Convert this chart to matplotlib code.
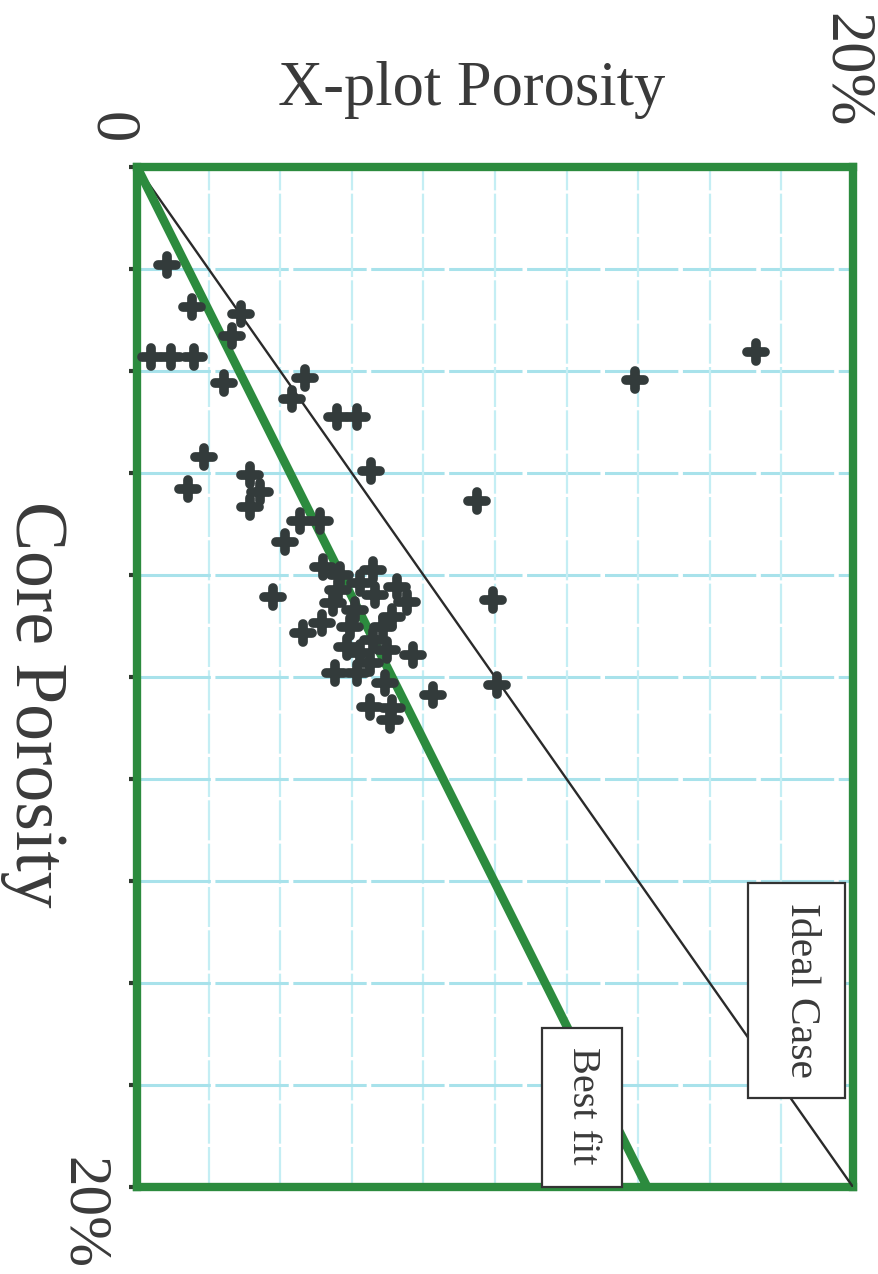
import matplotlib
matplotlib.use("Agg")
import matplotlib.pyplot as plt
from matplotlib.patches import Rectangle
from matplotlib.markers import MarkerStyle

# ---- data (porosity, %) ----
xplot_por = [0.84, 1.54, 2.91, 2.65, 0.39, 0.95, 1.59, 2.43, 4.69, 4.33, 5.59, 6.15,
             13.91, 17.29, 1.87, 1.42, 3.16, 3.44, 3.16, 6.54, 9.50, 4.55, 5.11, 4.13,
             5.20, 3.80, 9.94, 10.06, 7.71, 8.27, 6.59, 4.64, 5.17, 5.47, 5.61, 6.23,
             6.65, 7.26, 7.54, 7.12, 6.87, 5.95, 5.87, 6.23, 6.59, 6.98, 5.53, 6.15,
             6.51, 6.93, 6.51, 7.07, 7.12, 6.09, 5.67]
core_por = [1.92, 2.75, 2.88, 3.31, 3.73, 3.73, 3.73, 4.24, 4.14, 4.55, 4.90, 4.90,
            4.18, 3.63, 5.69, 6.31, 6.04, 6.37, 6.67, 5.96, 6.55, 6.94, 6.94, 7.35,
            7.84, 8.43, 8.49, 10.16, 9.57, 10.35, 7.90, 9.14, 8.94, 8.55, 8.29, 8.16,
            8.39, 8.24, 8.53, 8.82, 9.02, 9.02, 9.41, 9.53, 9.27, 9.47, 9.92, 9.92,
            9.73, 10.12, 10.59, 10.84, 10.61, 8.69, 8.00]

ideal_x = [0, 20]
ideal_y = [0, 20]
bestfit_x = [0, 14.25]
bestfit_y = [0, 20]

grid_vals = [2, 4, 6, 8, 10, 12, 14, 16, 18]
tick_vals = [0, 2, 4, 6, 8, 10, 12, 14, 16, 18, 20]

GREEN = "#2c8b3e"
DARK = "#333b3b"
TXT = "#3a3a3a"
FONT = "Liberation Serif"

fig = plt.figure(figsize=(8.79, 12.74), dpi=100)
ax = fig.add_axes([0.1559, 0.0683, 0.8145, 0.8006])
ax.set_xlim(0, 20)
ax.set_ylim(20, 0)

for g in grid_vals:
    ax.axvline(g, color="#c4eef4", lw=1.6, zorder=1, dashes=(18, 1.5))
    ax.axhline(g, color="#a8e2eb", lw=2.2, zorder=1, dashes=(24, 1.5))

ax.plot(ideal_x, ideal_y, color="#2a2a2a", lw=1.7, zorder=3)
ax.plot(bestfit_x, bestfit_y, color=GREEN, lw=6.3, zorder=3, solid_capstyle="butt")

plus = MarkerStyle("+", capstyle="round")
ax.plot(xplot_por, core_por, linestyle="none", marker=plus, markersize=13,
        markeredgewidth=7, color=DARK, zorder=4)

for s in ax.spines.values():
    s.set_color(GREEN)
    s.set_linewidth(6)

ax.set_xticks([])
ax.set_yticks(tick_vals)
ax.set_yticklabels([])
ax.tick_params(axis="y", direction="out", length=6, width=3, color="#2f3a2f", pad=0)

# label boxes
ax.add_patch(Rectangle((17.07, 14.04), 2.71, 4.21, facecolor="white",
                       edgecolor="#333333", lw=1.6, zorder=5, clip_on=False))
ax.text(18.55, 16.15, "Ideal Case", rotation=-90, ha="center", va="center",
        fontsize=30, family=FONT, color=TXT, zorder=6)
ax.add_patch(Rectangle((11.31, 16.88), 2.24, 3.12, facecolor="white",
                       edgecolor="#333333", lw=1.6, zorder=5, clip_on=False))
ax.text(12.45, 18.40, "Best fit", rotation=-90, ha="center", va="center",
        fontsize=29, family=FONT, color=TXT, zorder=6)

# outer texts
fig.text(0.537, 0.929, "X-plot Porosity", ha="center", va="center",
         fontsize=45, family=FONT, color=TXT)
fig.text(0.125, 0.8995, "0", rotation=-90, ha="center", va="center",
         fontsize=45, family=FONT, color=TXT)
fig.text(0.961, 0.945, "20%", rotation=-90, ha="center", va="center",
         fontsize=45, family=FONT, color=TXT)
fig.text(0.0944, 0.0479, "20%", rotation=-90, ha="center", va="center",
         fontsize=44, family=FONT, color=TXT)
fig.text(0.0387, 0.447, "Core Porosity", rotation=-90, ha="center", va="center",
         fontsize=53, family=FONT, color=TXT)

fig.savefig("out.png", dpi=100, facecolor="white")
